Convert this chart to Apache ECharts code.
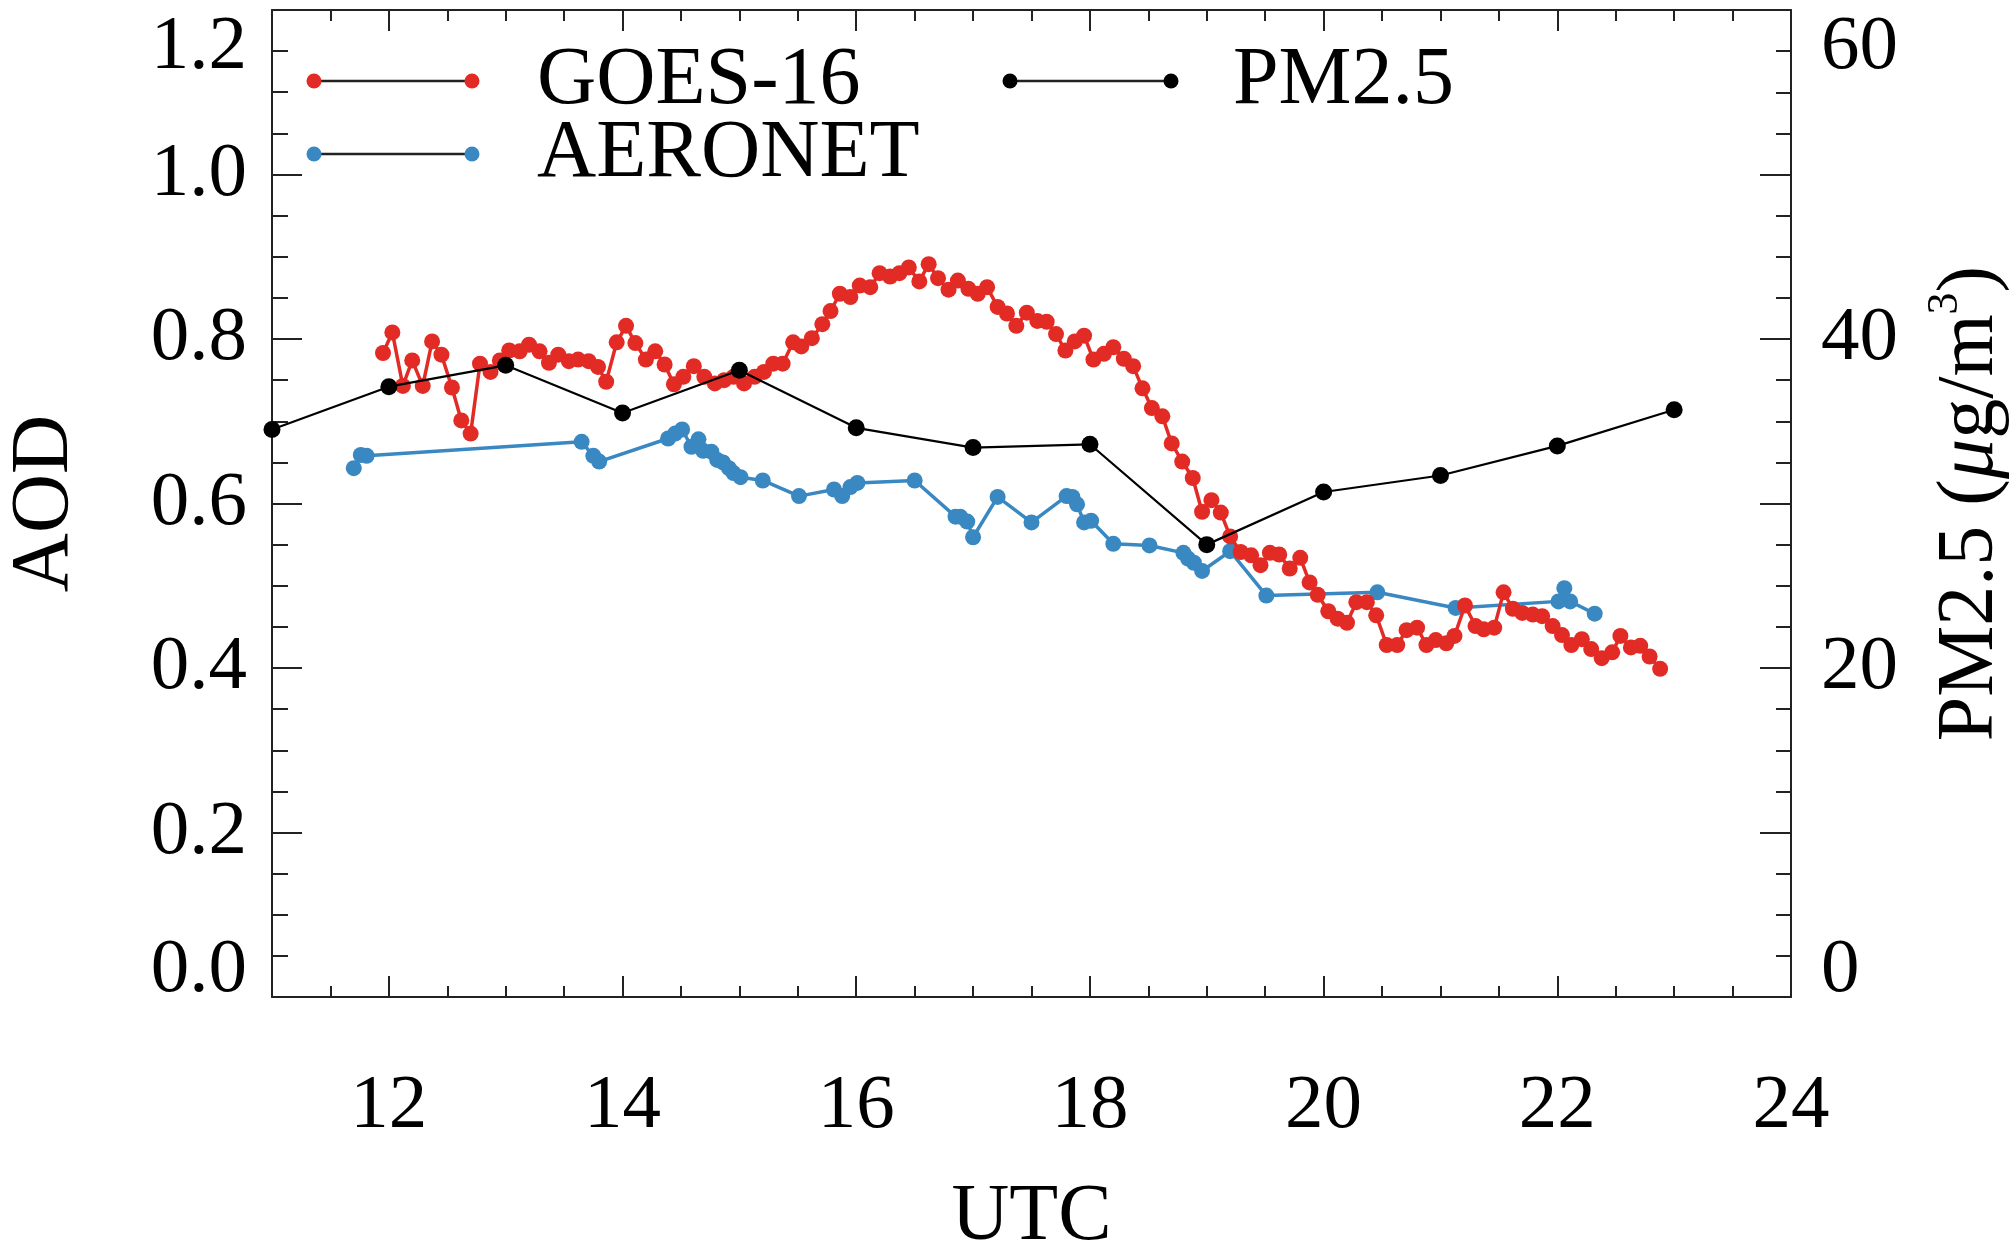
<!DOCTYPE html>
<html><head><meta charset="utf-8">
<script src="https://cdn.jsdelivr.net/npm/echarts@6/dist/echarts.min.js"></script>
<style>html,body{margin:0;padding:0;background:#fff}#c{width:2010px;height:1242px}</style>
</head><body><div id="c"></div>
<script>
// ---- data ----
const goesTime = [11.95,12.03,12.12,12.20,12.29,12.37,12.45,12.54,12.62,12.70,
  12.78,12.87,12.95,13.03,13.12,13.20,13.29,13.37,13.45,13.54,
  13.62,13.71,13.79,13.86,13.95,14.03,14.11,14.20,14.28,14.36,
  14.44,14.52,14.61,14.70,14.79,14.87,14.95,15.04,15.13,15.21,
  15.29,15.37,15.46,15.53,15.62,15.71,15.78,15.86,15.95,16.03,
  16.12,16.20,16.29,16.37,16.45,16.54,16.62,16.70,16.79,16.87,
  16.96,17.04,17.12,17.21,17.29,17.37,17.46,17.55,17.63,17.71,
  17.79,17.87,17.95,18.03,18.12,18.20,18.29,18.37,18.45,18.53,
  18.62,18.70,18.79,18.88,18.96,19.04,19.12,19.20,19.29,19.38,
  19.46,19.54,19.62,19.71,19.80,19.88,19.95,20.04,20.12,20.20,
  20.28,20.37,20.45,20.54,20.63,20.71,20.80,20.88,20.96,21.05,
  21.12,21.21,21.30,21.37,21.46,21.54,21.62,21.70,21.79,21.87,
  21.96,22.04,22.12,22.21,22.29,22.38,22.47,22.54,22.63,22.71,
  22.79,22.88];
const goesAod = [0.783,0.808,0.743,0.774,0.743,0.797,0.781,0.741,0.701,0.685,
  0.770,0.760,0.774,0.786,0.785,0.793,0.785,0.771,0.781,0.773,
  0.775,0.773,0.766,0.748,0.796,0.816,0.795,0.775,0.785,0.769,
  0.745,0.754,0.767,0.754,0.746,0.750,0.754,0.746,0.754,0.760,
  0.770,0.770,0.796,0.791,0.801,0.818,0.834,0.855,0.851,0.865,
  0.863,0.880,0.876,0.880,0.887,0.870,0.891,0.874,0.860,0.871,
  0.861,0.855,0.863,0.839,0.831,0.816,0.832,0.822,0.821,0.806,
  0.786,0.797,0.804,0.775,0.782,0.790,0.776,0.767,0.740,0.716,
  0.706,0.673,0.651,0.631,0.590,0.604,0.589,0.560,0.541,0.537,
  0.525,0.540,0.538,0.521,0.534,0.504,0.489,0.469,0.460,0.455,
  0.480,0.480,0.464,0.428,0.428,0.446,0.449,0.428,0.434,0.430,
  0.439,0.476,0.451,0.447,0.449,0.492,0.472,0.467,0.465,0.463,
  0.451,0.440,0.428,0.435,0.423,0.412,0.419,0.439,0.425,0.427,
  0.414,0.399];
const aeronetTime = [11.70,11.76,11.81,13.65,13.75,13.80,14.39,14.45,14.51,14.59,
  14.65,14.69,14.76,14.81,14.86,14.91,14.95,15.01,15.20,15.51,
  15.81,15.88,15.95,16.01,16.50,16.85,16.89,16.95,17.00,17.21,
  17.50,17.80,17.85,17.89,17.95,18.01,18.20,18.51,18.80,18.84,
  18.89,18.96,19.20,19.51,20.46,21.13,22.01,22.06,22.11,22.32];
const aeronetAod = [0.643,0.659,0.658,0.675,0.658,0.651,0.679,0.685,0.690,0.669,
  0.678,0.664,0.663,0.653,0.650,0.643,0.637,0.632,0.628,0.609,
  0.617,0.609,0.620,0.625,0.628,0.584,0.584,0.578,0.559,0.608,
  0.577,0.609,0.608,0.599,0.577,0.579,0.551,0.549,0.540,0.533,
  0.528,0.518,0.542,0.488,0.492,0.473,0.481,0.497,0.481,0.466];
const pmTime = [11,12,13,14,15,16,17,18,19,20,21,22,23];
const pmValue = [34.5,37.1,38.4,35.5,38.1,34.6,33.4,33.6,27.5,30.7,31.7,33.5,35.7];
const xMajorTicks = [12,14,16,18,20,22,24];
const pmLabelValues = [0,20,40,60];
const seriesNames = ['GOES-16','AERONET','PM2.5'];

// ---- styling ----
const FONT = 'Liberation Serif';
const AX = '#222';
const RED = '#E22B25', BLUE = '#3A88C2', BLACK = '#000';
const zip = (a,b) => a.map((v,i) => [v,b[i]]);
const lineSt = {color: AX, width: 2};
const TICKFS = 77;
const endRich = {
  lo:{fontFamily:FONT, fontSize:TICKFS, color:'#000', padding:[0,0,52,0]},
  hi:{fontFamily:FONT, fontSize:TICKFS, color:'#000', padding:[76,0,0,0]}
};
function endLabel(s, v, vmin, vmax){
  if (Math.abs(v - vmin) < 1e-6) return '{lo|' + s + '}';
  if (Math.abs(v - vmax) < 1e-6) return '{hi|' + s + '}';
  return s;
}

const xCommon = {type:'value', min:11, max:24, splitLine:{show:false}};
const option = {
  animation:false,
  backgroundColor:'#fff',
  textStyle:{fontFamily:FONT},
  grid:{left:272, right:219, top:10, bottom:245, containLabel:false, outerBoundsMode:'none'},
  xAxis:[
    Object.assign({}, xCommon, {position:'bottom', interval:0.5,
      axisLine:{show:true, lineStyle:lineSt},
      axisTick:{inside:true, length:11, lineStyle:lineSt},
      axisLabel:{customValues:xMajorTicks, fontFamily:FONT, fontSize:TICKFS, color:'#000', margin:71},
      name:'UTC', nameLocation:'middle', nameGap:181,
      nameTextStyle:{fontFamily:FONT, fontSize:80, color:'#000'}}),
    Object.assign({}, xCommon, {position:'bottom',
      axisLine:{show:false},
      axisTick:{customValues:xMajorTicks, inside:true, length:21, lineStyle:lineSt},
      axisLabel:{show:false}}),
    Object.assign({}, xCommon, {position:'top', interval:0.5,
      axisLine:{show:true, lineStyle:lineSt},
      axisTick:{inside:true, length:11, lineStyle:lineSt},
      axisLabel:{show:false}}),
    Object.assign({}, xCommon, {position:'top',
      axisLine:{show:false},
      axisTick:{customValues:xMajorTicks, inside:true, length:21, lineStyle:lineSt},
      axisLabel:{show:false}})
  ],
  yAxis:[
    {type:'value', position:'left', min:0, max:1.2, interval:0.2,
      splitLine:{show:false},
      axisLine:{show:true, lineStyle:lineSt},
      axisTick:{inside:true, length:30, lineStyle:lineSt},
      minorTick:{show:true, splitNumber:4, length:16, lineStyle:lineSt},
      axisLabel:{formatter:v => endLabel(v.toFixed(1), v, 0, 1.2), fontFamily:FONT, fontSize:TICKFS, color:'#000', margin:25,
        rich:endRich},
      name:'AOD', nameLocation:'middle', nameRotate:90, nameGap:186,
      nameTextStyle:{fontFamily:FONT, fontSize:82, color:'#000'}},
    {type:'value', position:'right', min:0, max:60, interval:10,
      splitLine:{show:false},
      axisLine:{show:true, lineStyle:lineSt},
      axisTick:{inside:true, length:31, lineStyle:lineSt},
      minorTick:{show:true, splitNumber:4, length:15, lineStyle:lineSt},
      axisLabel:{formatter:v => pmLabelValues.indexOf(Math.round(v)) >= 0 ? endLabel(String(Math.round(v)), v, 0, 60) : '',
        fontFamily:FONT, fontSize:TICKFS, color:'#000', margin:30, rich:endRich},
      name:'{a|PM2.5 (}{i|μ}{a|g/m}{s|3}{a|)}', nameLocation:'middle', nameRotate:90, nameGap:132,
      nameTextStyle:{fontFamily:FONT, fontSize:80, color:'#000',
        rich:{
          a:{fontFamily:FONT, fontSize:80, color:'#000'},
          i:{fontFamily:FONT, fontSize:80, fontStyle:'italic', color:'#000'},
          s:{fontFamily:FONT, fontSize:44, color:'#000', padding:[0,0,52,0]}
        }}}
  ],
  series:[
    {name:seriesNames[1], type:'line', xAxisIndex:0, yAxisIndex:0, data:zip(aeronetTime, aeronetAod),
      symbol:'circle', symbolSize:16, itemStyle:{color:BLUE}, lineStyle:{color:BLUE, width:3.5}, z:2},
    {name:seriesNames[0], type:'line', xAxisIndex:0, yAxisIndex:0, data:zip(goesTime, goesAod),
      symbol:'circle', symbolSize:16, itemStyle:{color:RED}, lineStyle:{color:RED, width:3.5}, z:3},
    {name:seriesNames[2], type:'line', xAxisIndex:0, yAxisIndex:1, data:zip(pmTime, pmValue),
      symbol:'circle', symbolSize:17, itemStyle:{color:BLACK}, lineStyle:{color:BLACK, width:2.2}, z:4}
  ]
};

// legend drawn as graphic (dot - line - dot, label)
const legendItems = [
  {name:seriesNames[0], color:RED, x1:314, x2:472, y:81, tx:537},
  {name:seriesNames[1], color:BLUE, x1:314, x2:472, y:154, tx:537},
  {name:seriesNames[2], color:BLACK, x1:1010, x2:1171, y:81, tx:1233}
];
const g = [];
legendItems.forEach(it => {
  g.push({type:'line', shape:{x1:it.x1, y1:it.y, x2:it.x2, y2:it.y}, style:{stroke:'#222', lineWidth:2.5}, z:10});
  g.push({type:'circle', shape:{cx:it.x1, cy:it.y, r:7.5}, style:{fill:it.color}, z:11});
  g.push({type:'circle', shape:{cx:it.x2, cy:it.y, r:7.5}, style:{fill:it.color}, z:11});
  g.push({type:'text', x:it.tx, y:it.y, style:{text:it.name, fontFamily:FONT, fontSize:82, fill:'#000', verticalAlign:'middle', align:'left'}, z:11});
});
option.graphic = g;

const chart = echarts.init(document.getElementById('c'), null, {renderer:'canvas'});
chart.setOption(option);
</script>
</body></html>
